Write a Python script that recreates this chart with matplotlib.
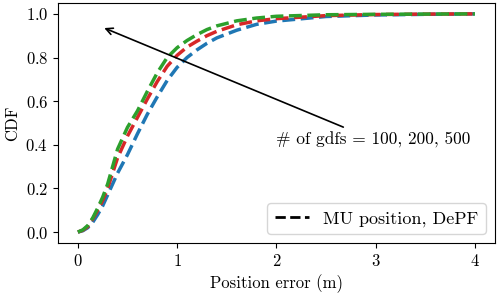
import matplotlib
matplotlib.use('Agg')
import matplotlib.pyplot as plt

plt.rcParams['font.family'] = 'serif'
plt.rcParams['font.serif'] = ['cmr10']
plt.rcParams['mathtext.fontset'] = 'cm'
plt.rcParams['axes.formatter.use_mathtext'] = True
plt.rcParams['font.size'] = 12

# position error (m) and CDF values
err = [0, 0.05, 0.1, 0.15, 0.2, 0.25, 0.3, 0.35, 0.4, 0.5, 0.6, 0.7, 0.8, 0.9, 1.0,
       1.1, 1.2, 1.3, 1.4, 1.6, 1.8, 2.0, 2.5, 3.0, 3.5, 4.0]
cdf_100 = [0, 0.006, 0.02, 0.045, 0.08, 0.12, 0.17, 0.22, 0.27, 0.355, 0.45, 0.54,
           0.62, 0.695, 0.755, 0.80, 0.835, 0.865, 0.89, 0.925, 0.952, 0.967,
           0.988, 0.995, 0.998, 1.0]
cdf_200 = [0, 0.008, 0.025, 0.06, 0.10, 0.145, 0.20, 0.27, 0.34, 0.44, 0.525, 0.61,
           0.69, 0.76, 0.81, 0.848, 0.875, 0.90, 0.92, 0.95, 0.968, 0.978,
           0.992, 0.997, 0.999, 1.0]
cdf_500 = [0, 0.01, 0.03, 0.065, 0.11, 0.16, 0.22, 0.30, 0.38, 0.48, 0.555, 0.645,
           0.73, 0.80, 0.845, 0.878, 0.905, 0.928, 0.945, 0.968, 0.981, 0.989,
           0.996, 0.998, 0.999, 1.0]

fig = plt.figure(figsize=(4.98, 2.97), dpi=100)
ax = fig.add_axes([0.1165, 0.182, 0.877, 0.808])

ax.plot(err, cdf_100, '--', color='tab:blue', lw=2.5)
ax.plot(err, cdf_200, '--', color='tab:red', lw=2.5)
ax.plot(err, cdf_500, '--', color='tab:green', lw=2.5)

# legend entry only
ax.plot([], [], '--', color='black', lw=2, label='MU position, DePF')
ax.legend(loc='lower right', fontsize=13, handlelength=1.9)

ax.annotate('', xy=(0.24, 0.94), xytext=(2.70, 0.476),
            arrowprops=dict(arrowstyle='->', color='black', lw=1.2))
ax.text(2.0, 0.423, '# of gdfs = 100, 200, 500', va='center', ha='left',
        fontsize=12.5)

ax.set_xlabel('Position error (m)')
ax.set_ylabel('CDF')
ax.set_xticks([0, 1, 2, 3, 4])

fig.savefig('out.png', dpi=100)
